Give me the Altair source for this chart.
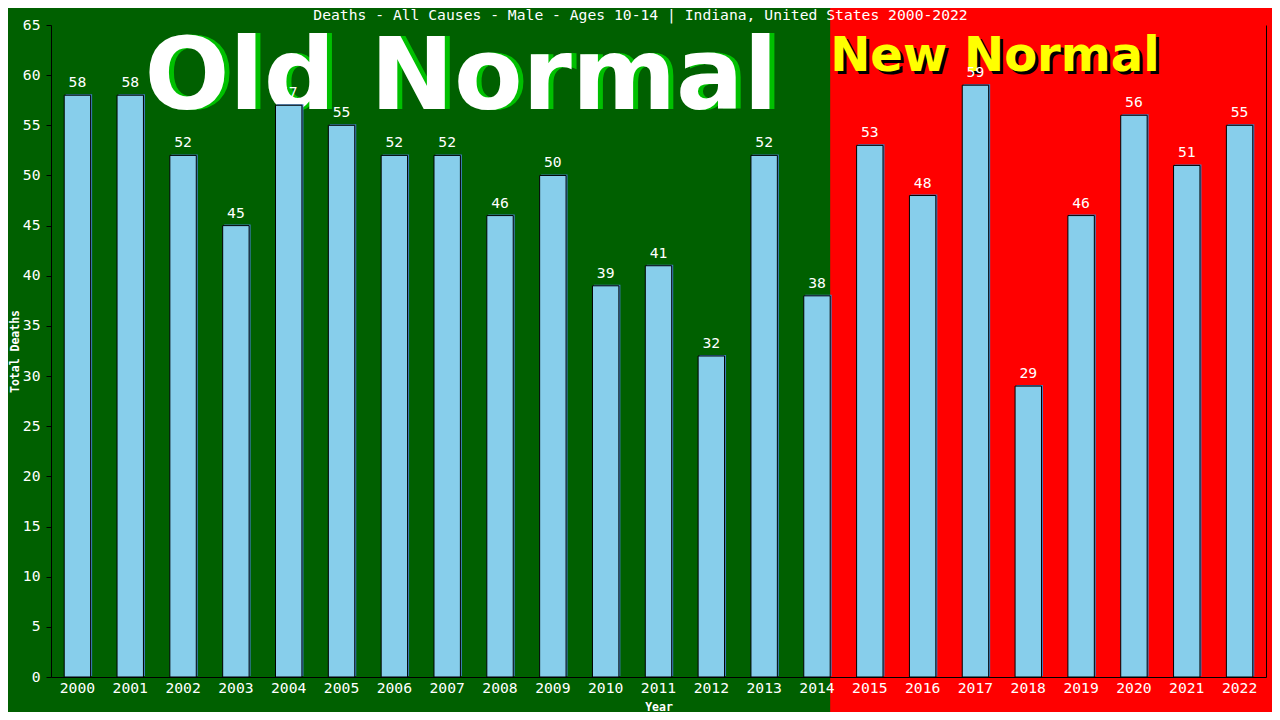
import altair as alt
import pandas as pd

years = [str(y) for y in range(2000, 2023)]
deaths = [58, 58, 52, 45, 57, 55, 52, 52, 46, 50, 39, 41, 32, 52, 38,
          53, 48, 59, 29, 46, 56, 51, 55]
title_text = "Deaths - All Causes - Male - Ages 10-14 | Indiana, United States 2000-2022"
y_ticks = list(range(0, 66, 5))

df = pd.DataFrame({"year": years, "deaths": deaths})
one = alt.Data(values=[{"k": 1}])

MONO = "DejaVu Sans Mono"
SANS = "DejaVu Sans"
W, H = 1215, 652

x_scale = alt.Scale(domain=years, paddingInner=0.5, paddingOuter=0.25)

x_enc = alt.X("year:O", sort=None, title="Year", scale=x_scale,
              axis=alt.Axis(labelAngle=0, ticks=False, labelPadding=11,
                            bandPosition=0.5, labelAlign="center",
                            domainColor="black", labelColor="white",
                            labelFont=MONO, labelFontSize=14.7,
                            titleColor="white", titleFont=MONO,
                            titleFontSize=11.5, titleFontWeight="bold",
                            titleY=30, titleBaseline="middle", zindex=2))

y_scale = alt.Scale(domain=[0, 65], nice=False)

y_left = alt.Y("deaths:Q", scale=y_scale, title="Total Deaths",
               axis=alt.Axis(values=y_ticks, grid=False, tickSize=5,
                             tickColor="black", domainColor="black",
                             labelColor="white", labelFont=MONO,
                             labelFontSize=14.7, labelPadding=6,
                             titleColor="white", titleFont=MONO,
                             titleFontSize=11.5, titleFontWeight="bold",
                             titleAngle=270, titleX=-36, titleY=H / 2,
                             titleBaseline="middle", titleAlign="center",
                             zindex=2))

y_right = alt.Y("deaths:Q", scale=y_scale, title=None,
                axis=alt.Axis(orient="right", labels=False, ticks=False,
                              grid=False, domainColor="black", title=None,
                              zindex=2))

y_none = alt.Y("deaths:Q", scale=y_scale, axis=None)

# background: green canvas, red region from the right edge of the 2014 bar
red = alt.Chart(one).mark_rect(color="#FF0000").encode(
    x=alt.XDatum("2014", type="ordinal", bandPosition=1, title="Year"),
    x2=alt.value(W + 10),
    y=alt.value(-17),
    y2=alt.value(H + 35),
)

old_shadow = alt.Chart(one).mark_text(
    text="Old Normal", font=SANS, fontWeight="bold", fontSize=100,
    color="#00C000", align="center", baseline="alphabetic", dx=19
).encode(x=alt.XDatum("2007", type="ordinal", title="Year"),
         y=alt.YDatum(56.6, type="quantitative", axis=None))
old_text = alt.Chart(one).mark_text(
    text="Old Normal", font=SANS, fontWeight="bold", fontSize=100,
    color="white", align="center", baseline="alphabetic", dx=14
).encode(x=alt.XDatum("2007", type="ordinal", title="Year"),
         y=alt.YDatum(56.6, type="quantitative", axis=None))

new_shadow = alt.Chart(one).mark_text(
    text="New Normal", font=SANS, fontWeight="bold", fontSize=48,
    color="black", align="left", baseline="alphabetic", dx=3, dy=3
).encode(x=alt.XDatum("2014", type="ordinal", bandPosition=1, title="Year"),
         y=alt.YDatum(60.4, type="quantitative", axis=None))
new_text = alt.Chart(one).mark_text(
    text="New Normal", font=SANS, fontWeight="bold", fontSize=48,
    color="#FFFF00", align="left", baseline="alphabetic"
).encode(x=alt.XDatum("2014", type="ordinal", bandPosition=1, title="Year"),
         y=alt.YDatum(60.4, type="quantitative", axis=None))

base = alt.Chart(df)
bar_shadow = base.mark_bar(color="#3F7FC0", xOffset=1.5, yOffset=-1).encode(
    x=x_enc, y=y_right)
bars = base.mark_bar(fill="#87CEEB", stroke="black", strokeWidth=1).encode(
    x=x_enc, y=y_left)
labels = base.mark_text(font=MONO, fontSize=14.7, color="white",
                        baseline="alphabetic", dy=-8).encode(
    x=x_enc, y=y_none, text="deaths:Q")

chart = alt.layer(
    red, old_shadow, old_text, new_shadow, new_text, bar_shadow, bars, labels
).resolve_axis(y="independent").properties(
    width=W, height=H,
    autosize=alt.AutoSizeParams(type="none"),
    padding={"left": 43, "top": 17, "right": 6, "bottom": 35},
    background="#006000",
    title=alt.TitleParams(title_text, font=MONO, fontSize=14.7,
                          fontWeight="normal", color="white",
                          anchor="middle", frame="group", dx=-18,
                          baseline="alphabetic", offset=-27, zindex=2),
).configure_view(stroke=None)

chart.save("out.html", embed_options={"renderer": "svg", "actions": False})
